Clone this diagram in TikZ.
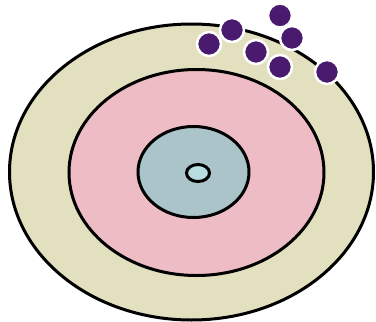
\documentclass[tikz,border=0pt]{standalone}
\usetikzlibrary{shapes.geometric}
\definecolor{beige}{HTML}{E2E0BF}
\definecolor{pinkc}{HTML}{EDBCC4}
\definecolor{bluec}{HTML}{AAC4CA}
\definecolor{corec}{HTML}{B8DDE0}
\definecolor{purp}{HTML}{4A1A6E}
\begin{document}
\begin{tikzpicture}[x=1pt,y=-1pt,
  ring/.style={draw=black,line width=3pt,ellipse,inner sep=0pt},
  dot/.style={circle,fill=purp,draw=white,line width=2.5pt,minimum size=24pt,inner sep=0pt}]
\useasboundingbox (0,0) rectangle (376,322);
\fill[white] (0,0) rectangle (376,322);
\node[ring,fill=beige,minimum width=364pt,minimum height=296pt] (outer) at (191.5,172) {};
\node[ring,fill=pinkc,minimum width=255pt,minimum height=206pt] (middle) at (196.5,172.5) {};
\node[ring,fill=bluec,minimum width=111pt,minimum height=91pt] (inner) at (193.5,172) {};
\node[ring,fill=corec,minimum width=23pt,minimum height=17pt] (core) at (198,173) {};
\node[dot] (d1) at (280,15.5) {};
\node[dot] (d2) at (232,30) {};
\node[dot] (d3) at (209,44) {};
\node[dot] (d4) at (292,38) {};
\node[dot] (d5) at (256,52) {};
\node[dot] (d6) at (280,67) {};
\node[dot] (d7) at (327,72) {};
\end{tikzpicture}
\end{document}
